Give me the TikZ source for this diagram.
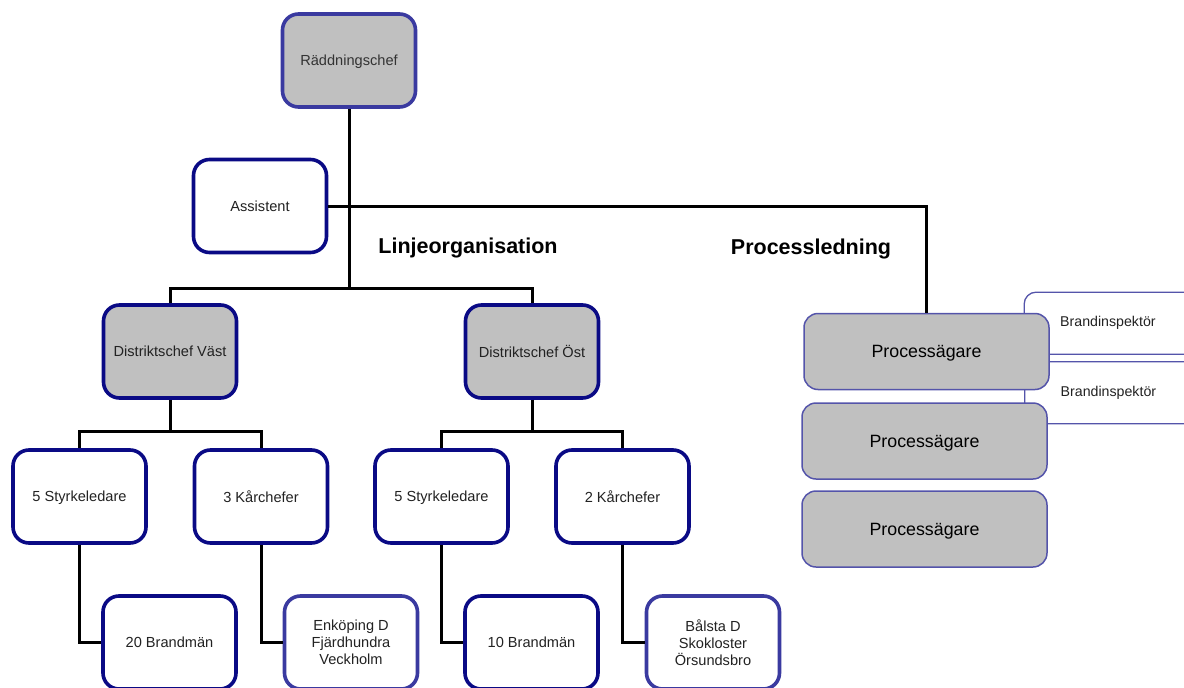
\documentclass[tikz,border=0pt]{standalone}
\usepackage{fontspec}
\setmainfont{Liberation Sans}
\definecolor{navy}{HTML}{0A0A85}
\definecolor{lnavy}{HTML}{3A3AA0}
\definecolor{pblue}{HTML}{5454AA}
\definecolor{boxgray}{HTML}{C0C0C0}
\definecolor{txt}{HTML}{222222}
\tikzset{
  obox/.style={rectangle, rounded corners=16pt, line width=3.6pt, draw=navy, fill=white,
    minimum width=133pt, minimum height=93pt, inner sep=0pt, align=center, text depth=0pt,
    font=\fontsize{14.6pt}{17pt}\selectfont, text=txt},
  gbox/.style={obox, fill=boxgray},
  lbox/.style={obox, draw=lnavy},
  pbox/.style={rectangle, rounded corners=14pt, line width=1.5pt, draw=pblue, fill=boxgray,
    minimum width=245pt, minimum height=76pt, inner sep=0pt, text depth=0pt,
    font=\fontsize{17.8pt}{20pt}\selectfont, text=black},
  bibox/.style={rectangle, rounded corners=12pt, line width=1.3pt, draw=pblue, fill=white,
    minimum width=220pt, minimum height=62pt, inner xsep=36pt, inner ysep=0pt,
    text width=148pt, align=left, anchor=north west,
    font=\fontsize{14.2pt}{16pt}\selectfont, text=txt},
  conn/.style={line width=3pt, black},
  head/.style={font=\bfseries\fontsize{21.5pt}{24pt}\selectfont, text=black}
}
\begin{document}
\begin{tikzpicture}[x=1pt,y=-1pt]
\useasboundingbox (0,0) rectangle (1184,688);
\clip (0,0) rectangle (1184,688);
% nodes
\node[lbox, fill=boxgray, text=black!80] (rc) at (349,60.5) {Räddningschef};
\node[obox] (as) at (260,206) {Assistent};
\node[gbox] (dv) at (170,351.5) {Distriktschef Väst};
\node[gbox] (do) at (532,351.5) {Distriktschef Öst};
\node[obox] (s1) at (79.5,496.5) {5 Styrkeledare};
\node[obox] (k1) at (261,496.5) {3 Kårchefer};
\node[obox] (s2) at (441.5,496.5) {5 Styrkeledare};
\node[obox] (k2) at (622.5,496.5) {2 Kårchefer};
\node[obox] (b1) at (169.5,642.5) {20 Brandmän};
\node[lbox] (e1) at (351,642.5) {Enköping D\\Fjärdhundra\\Veckholm};
\node[obox] (b2) at (531.5,642.5) {10 Brandmän};
\node[lbox] (e2) at (713,642.5) {Bålsta D\\Skokloster\\Örsundsbro};
% headings
\node[head] (lo) at (468,247.5) {Linjeorganisation};
\node[head] (pl) at (811,248.5) {Processledning};
% right side
\node[bibox] (bi1) at (1023.5,291.5) {Brandinspektör};
\node[bibox] (bi2) at (1024,361) {Brandinspektör};
\node[pbox] (pa1) at (926.5,351.5) {Processägare};
\node[pbox] (pa2) at (924.5,441) {Processägare};
\node[pbox] (pa3) at (924.5,529) {Processägare};
% junctions
\coordinate (j1) at (349,288);
\coordinate (j2) at (170,431);
\coordinate (j3) at (532,431);
% connectors
\draw[conn] (rc.south) -- (j1);
\draw[conn] (as.east) -- (pa1.north |- as.east) -- (pa1.north);
\draw[conn] (dv.north) |- (j1) -| (do.north);
\draw[conn] (dv.south) -- (j2);
\draw[conn] (s1.north) |- (j2) -| (k1.north);
\draw[conn] (do.south) -- (j3);
\draw[conn] (s2.north) |- (j3) -| (k2.north);
\draw[conn] (s1.south) |- (b1.west);
\draw[conn] (k1.south) |- (e1.west);
\draw[conn] (s2.south) |- (b2.west);
\draw[conn] (k2.south) |- (e2.west);
\end{tikzpicture}
\end{document}
